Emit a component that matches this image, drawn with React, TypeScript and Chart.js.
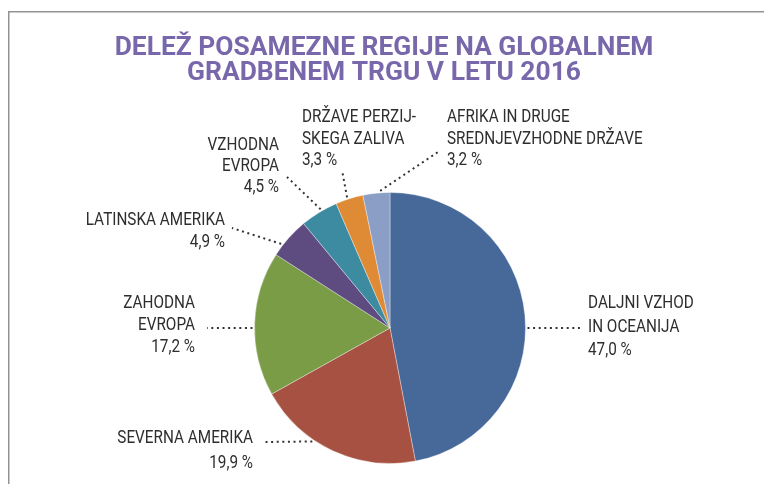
import React, { useEffect, useRef } from "react";
import { Chart, registerables } from "chart.js";

Chart.register(...registerables);

const TITLE_LINES = ["DELEŽ POSAMEZNE REGIJE NA GLOBALNEM", "GRADBENEM TRGU V LETU 2016"];

const categories: string[][] = [
  ["DALJNI VZHOD", "IN OCEANIJA"],
  ["SEVERNA AMERIKA"],
  ["ZAHODNA", "EVROPA"],
  ["LATINSKA AMERIKA"],
  ["VZHODNA", "EVROPA"],
  ["DRŽAVE PERZIJ-", "SKEGA ZALIVA"],
  ["AFRIKA IN DRUGE", "SREDNJEVZHODNE DRŽAVE"],
];

const shares = [47.0, 19.9, 17.2, 4.9, 4.5, 3.3, 3.2];

const colors = ["#46699a", "#a65141", "#7b9c47", "#5e4b80", "#3c8ba0", "#df8a35", "#8b9fc6"];

// label layout (relative to pie centre): leader start angle (deg clockwise from top),
// leader end offset, text anchor offset (first baseline), alignment, line height
const labelLayout = [
  { angle: 90, end: [190, 0], text: [198, -20], align: "left", lh: 23.5 },
  { angle: 214.4, end: [-127, 114], text: [-137, 115], align: "right", lh: 25 },
  { angle: 270, end: [-183, 0], text: [-195, -20], align: "right", lh: 22 },
  { angle: 307.7, end: [-158, -100], text: [-165, -103], align: "right", lh: 22 },
  { angle: 329.7, end: [-103, -151], text: [-111, -178], align: "right", lh: 21 },
  { angle: 341.8, end: [-48, -158], text: [-88, -206], align: "left", lh: 21.5 },
  { angle: 355.9, end: [48, -176], text: [57, -206], align: "left", lh: 21.5 },
];

const LABEL_FONT = "18px 'Roboto', sans-serif";
const LABEL_SCALE = 0.85;
const TITLE_FONT = "bold 26px 'Roboto', sans-serif";
const TITLE_SCALE = 1.015;

const fmt = (v: number) => v.toFixed(1).replace(".", ",") + " %";

function scaledText(ctx: any, t: string, x: number, y: number, sx: number) {
  ctx.save();
  ctx.translate(x, y);
  ctx.scale(sx, 1);
  ctx.fillText(t, 0, 0);
  ctx.restore();
}

const decorPlugin = {
  id: "decor",
  beforeDraw(chart: any) {
    const ctx = chart.ctx;
    ctx.save();
    ctx.strokeStyle = "#8f9396";
    ctx.lineWidth = 1.5;
    ctx.beginPath();
    ctx.moveTo(8.75, 484);
    ctx.lineTo(8.75, 11.75);
    ctx.lineTo(764, 11.75);
    ctx.stroke();
    ctx.fillStyle = "#7868ab";
    ctx.font = TITLE_FONT;
    ctx.textAlign = "center";
    ctx.textBaseline = "alphabetic";
    scaledText(ctx, TITLE_LINES[0], 384, 55, TITLE_SCALE);
    scaledText(ctx, TITLE_LINES[1], 384, 80, TITLE_SCALE);
    ctx.restore();
  },
  afterDraw(chart: any) {
    const ctx = chart.ctx;
    const meta = chart.getDatasetMeta(0);
    const arc0 = meta.data[0];
    const cx = arc0.x;
    const cy = arc0.y;
    const r = arc0.outerRadius;
    ctx.save();
    labelLayout.forEach((L, i) => {
      const a = (L.angle * Math.PI) / 180;
      const sx = cx + Math.sin(a) * (r + 2);
      const sy = cy - Math.cos(a) * (r + 2);
      ctx.strokeStyle = "#333";
      ctx.lineWidth = 2;
      ctx.setLineDash([2, 3.6]);
      ctx.beginPath();
      ctx.moveTo(sx, sy);
      ctx.lineTo(cx + L.end[0], cy + L.end[1]);
      ctx.stroke();
      ctx.setLineDash([]);
      ctx.fillStyle = "#2e2e2e";
      ctx.font = LABEL_FONT;
      ctx.textAlign = L.align;
      ctx.textBaseline = "alphabetic";
      const lines = [...categories[i], fmt(shares[i])];
      lines.forEach((t, j) => {
        scaledText(ctx, t, cx + L.text[0], cy + L.text[1] + j * L.lh, LABEL_SCALE);
      });
    });
    ctx.restore();
  },
};

export default function App() {
  const ref = useRef<HTMLCanvasElement>(null);
  useEffect(() => {
    document.body.style.margin = "0";
    const chart = new Chart(ref.current!, {
      type: "pie",
      data: {
        labels: categories.map((c) => c.join(" ")),
        datasets: [
          {
            data: shares,
            backgroundColor: colors,
            borderColor: "rgba(255,255,255,0.35)",
            borderWidth: 1,
          },
        ],
      },
      options: {
        responsive: false,
        animation: false,
        layout: { padding: { left: 254, right: 238, top: 191, bottom: 19 } },
        plugins: {
          legend: { display: false },
          tooltip: { enabled: false },
          title: { display: false },
        },
      },
      plugins: [decorPlugin],
    });
    return () => chart.destroy();
  }, []);
  return (
    <div style={{ position: "absolute", left: 0, top: 0, width: 764, height: 484, background: "#fff" }}>
      <canvas ref={ref} width={764} height={484} />
    </div>
  );
}
